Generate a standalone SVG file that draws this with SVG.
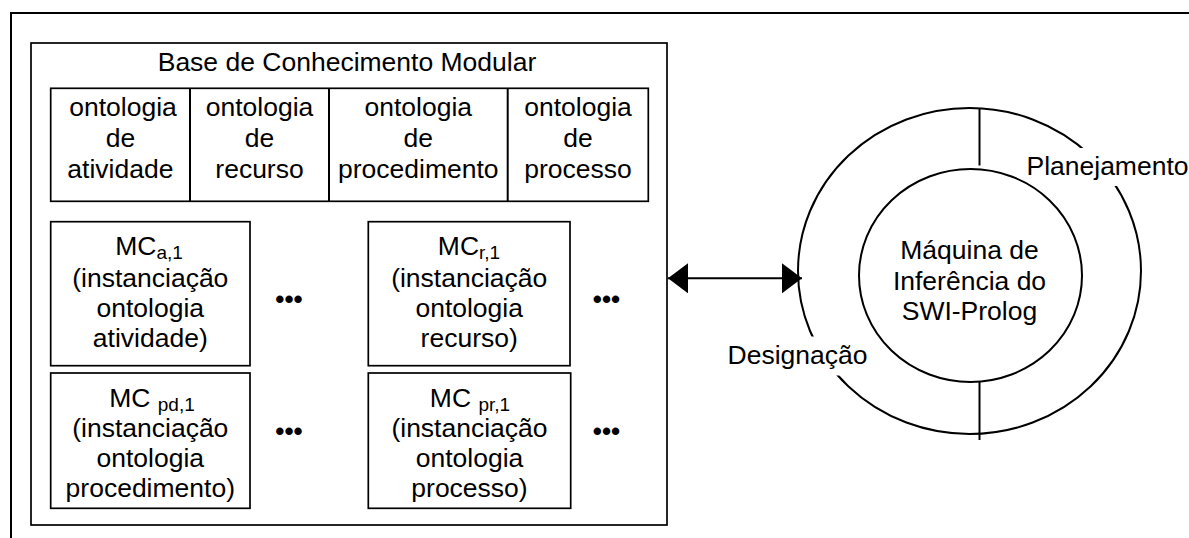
<svg xmlns="http://www.w3.org/2000/svg" width="1189" height="538" viewBox="0 0 1189 538">
  <style>
    .t { font-family: "Liberation Sans", Arial, sans-serif; font-size: 26.5px; fill: #000; text-anchor: middle; }
    .sub { font-size: 19px; }
    .box { fill: #fff; stroke: #000; stroke-width: 1.7; }
    .ring { fill: none; stroke: #000; stroke-width: 2; }
    .rule { stroke: #000; stroke-width: 2; fill: none; }
    .dots { font-family: "Liberation Sans", Arial, sans-serif; font-size: 26px; font-weight: bold; text-anchor: middle; }
    .halo { fill: #fff; stroke: none; }
  </style>
  <defs>
    <marker id="arrowHead" viewBox="0 0 20 30" refX="20" refY="15" markerWidth="20" markerHeight="30" markerUnits="userSpaceOnUse" orient="auto-start-reverse">
      <path d="M0,0 L20,15 L0,30 z" fill="#000"/>
    </marker>
  </defs>
  <rect width="1189" height="538" fill="#fff"/>

  <!-- outer frame -->
  <path id="frame" class="rule" d="M11,538 V13 H1189"/>

  <!-- modular knowledge base -->
  <g id="knowledge-base">
    <rect class="box" x="31" y="43" width="636" height="482"/>
    <text class="t" x="347" y="71">Base de Conhecimento Modular</text>
  </g>

  <g id="ontologies">
    <rect class="box" x="50.7" y="88.3" width="597.6" height="113"/>
    <line class="rule" x1="190" y1="88.3" x2="190" y2="201.3" stroke-width="1.7"/>
    <line class="rule" x1="329" y1="88.3" x2="329" y2="201.3" stroke-width="1.7"/>
    <line class="rule" x1="507.7" y1="88.3" x2="507.7" y2="201.3" stroke-width="1.7"/>
    <g id="ont-atividade">
      <text class="t" x="123" y="116">ontologia</text>
      <text class="t" x="120.4" y="147">de</text>
      <text class="t" x="120.4" y="177.5">atividade</text>
    </g>
    <g id="ont-recurso">
      <text class="t" x="259.5" y="116">ontologia</text>
      <text class="t" x="259.5" y="147">de</text>
      <text class="t" x="259.5" y="177.5">recurso</text>
    </g>
    <g id="ont-procedimento">
      <text class="t" x="418.3" y="116">ontologia</text>
      <text class="t" x="418.3" y="147">de</text>
      <text class="t" x="418.3" y="177.5">procedimento</text>
    </g>
    <g id="ont-processo">
      <text class="t" x="578" y="116">ontologia</text>
      <text class="t" x="578" y="147">de</text>
      <text class="t" x="578" y="177.5">processo</text>
    </g>
  </g>

  <g id="mc-atividade">
    <rect class="box" x="50.7" y="221.7" width="199.3" height="144"/>
    <text class="t" x="149" y="255">MC<tspan class="sub" dy="4">a,1</tspan></text>
    <text class="t" x="150.3" y="286.5">(instanciação</text>
    <text class="t" x="150.3" y="316.5">ontologia</text>
    <text class="t" x="150.3" y="346.5">atividade)</text>
  </g>

  <g id="mc-recurso">
    <rect class="box" x="368.3" y="221.7" width="201.7" height="144"/>
    <text class="t" x="469" y="255">MC<tspan class="sub" dy="4">r,1</tspan></text>
    <text class="t" x="469.2" y="286.5">(instanciação</text>
    <text class="t" x="469.2" y="316.5">ontologia</text>
    <text class="t" x="469.2" y="346.5">recurso)</text>
  </g>

  <g id="mc-procedimento">
    <rect class="box" x="50.7" y="373" width="199.3" height="135.3"/>
    <text class="t" x="152" y="406.5">MC <tspan class="sub" dy="4">pd,1</tspan></text>
    <text class="t" x="150.3" y="437">(instanciação</text>
    <text class="t" x="150.3" y="467">ontologia</text>
    <text class="t" x="150.3" y="497">procedimento)</text>
  </g>

  <g id="mc-processo">
    <rect class="box" x="368.3" y="373" width="202.4" height="135.3"/>
    <text class="t" x="470" y="406.5">MC <tspan class="sub" dy="4">pr,1</tspan></text>
    <text class="t" x="469.5" y="437">(instanciação</text>
    <text class="t" x="469.5" y="467">ontologia</text>
    <text class="t" x="469.5" y="497">processo)</text>
  </g>

  <g id="ellipsis-marks">
    <text class="dots" x="289" y="308">•••</text>
    <text class="dots" x="606.5" y="308">•••</text>
    <text class="dots" x="289" y="440">•••</text>
    <text class="dots" x="606.5" y="440">•••</text>
  </g>

  <!-- SWI-Prolog engine with planning/assignment ring -->
  <g id="engine-ring">
    <ellipse class="ring" cx="969.5" cy="271" rx="171.5" ry="163"/>
    <line class="rule" x1="979.5" y1="108" x2="979.5" y2="165.5"/>
    <line class="rule" x1="979.5" y1="381.5" x2="979.5" y2="440"/>
  </g>

  <g id="label-planejamento">
    <rect class="halo" x="1026" y="148" width="163" height="38"/>
    <text class="t" x="1107.5" y="175">Planejamento</text>
  </g>

  <g id="label-designacao">
    <rect class="halo" x="726" y="336.5" width="143" height="39"/>
    <text class="t" x="797.5" y="364">Designação</text>
  </g>

  <g id="engine">
    <ellipse class="ring" cx="970.5" cy="275.5" rx="111.5" ry="106.5"/>
    <text class="t" x="969.5" y="259">Máquina de</text>
    <text class="t" x="969.5" y="289.5">Inferência do</text>
    <text class="t" x="969.5" y="319.5">SWI-Prolog</text>
  </g>

  <!-- connectors -->
  <g id="connectors">
    <line class="rule" x1="668" y1="278.3" x2="802" y2="278.3" marker-start="url(#arrowHead)" marker-end="url(#arrowHead)"/>
  </g>
</svg>
